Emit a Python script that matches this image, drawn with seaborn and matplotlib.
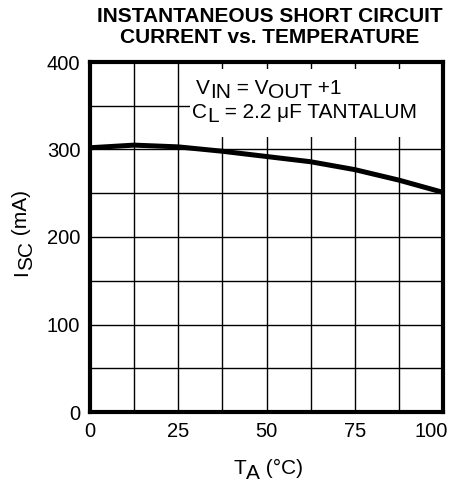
import matplotlib
matplotlib.use('Agg')
import matplotlib.pyplot as plt
import matplotlib.transforms as mtransforms
from matplotlib.patches import Rectangle
import seaborn as sns
import pandas as pd
import numpy as np

# Values
temp_c = [0, 12.5, 25, 37.5, 50, 62.5, 75, 87.5, 100]
isc_ma = [302, 305, 303, 298, 292, 286, 277, 265, 251]

x_ticks = [0, 25, 50, 75, 100]
y_ticks = [0, 100, 200, 300, 400]

sns.set_style("white")
plt.rcParams['font.family'] = ['Liberation Sans', 'DejaVu Sans']
plt.rcParams['text.color'] = 'black'

W, H = 456, 486
df = pd.DataFrame({'T': temp_c, 'I': isc_ma})

fig = plt.figure(figsize=(W / 100, H / 100), dpi=100)
ax = fig.add_axes([90 / W, 74 / H, 353 / W, 350 / H])

sns.lineplot(data=df, x='T', y='I', ax=ax, color='black', linewidth=3.6, zorder=5)

ax.set_xlim(0, 100)
ax.set_ylim(0, 400)
ax.set_xticks(x_ticks)
ax.set_yticks(y_ticks)
ax.set_xticks(np.arange(0, 101, 12.5), minor=True)
ax.set_yticks(np.arange(0, 401, 50), minor=True)
ax.grid(True, which='both', color='black', linewidth=1.0)
ax.tick_params(which='both', length=0, labelsize=14.5, colors='black')
ax.tick_params(axis='x', pad=7.5)
ax.tick_params(axis='y', pad=7)
ax.set_xlabel('')
ax.set_ylabel('')
for s in ax.spines.values():
    s.set_linewidth(3)
    s.set_color('black')
    s.set_zorder(6)

# last x label sits left of its tick in the reference
lab = ax.get_xticklabels()[-1]
lab.set_ha('right')
lab.set_transform(lab.get_transform() + mtransforms.ScaledTranslation(0.05, 0, fig.dpi_scale_trans))


def rich(x, y, parts, size, rot=0, shift=0.2):
    # text runs with full-size lowered subscripts; x, y = baseline start in px from top-left
    prev, prev_off = None, 0.0
    for s, low in parts:
        off = -shift * size if low else 0.0
        if prev is None:
            t = ax.annotate(s, xy=(x, H - y), xycoords='figure pixels', xytext=(0, 0),
                            textcoords='offset points', ha='left', va='baseline',
                            rotation=rot, rotation_mode='anchor', fontsize=size, zorder=7)
        elif rot == 0:
            t = ax.annotate(s, xy=(1, 0), xycoords=prev, xytext=(0, off - prev_off),
                            textcoords='offset points', ha='left', va='bottom',
                            fontsize=size, zorder=7)
        else:
            t = ax.annotate(s, xy=(0, 1), xycoords=prev, xytext=(prev_off - off, 0),
                            textcoords='offset points', ha='left', va='bottom',
                            rotation=rot, fontsize=size, zorder=7)
        prev, prev_off = t, off


# white box behind the conditions text
ax.add_patch(Rectangle((0.283, 0.786), 0.717, 0.194, transform=ax.transAxes,
                       facecolor='white', edgecolor='none', zorder=3))

rich(196, 94, [('V', False), ('IN', True), (' = V', False), ('OUT', True), (' +1', False)], 15)
rich(192, 118, [('C', False), ('L', True), (' = 2.2 μF TANTALUM', False)], 15)

rich(233, 474, [('T', False), ('A', True), (' (°C)', False)], 15, shift=0.22)
rich(27, 276, [('I', False), ('SC', True), (' (mA)', False)], 15, rot=90, shift=0.22)

fig.text(270 / W, 1 - 22 / H, 'INSTANTANEOUS SHORT CIRCUIT', ha='center', va='baseline',
         fontsize=15, fontweight='bold')
fig.text(270 / W, 1 - 43 / H, 'CURRENT vs. TEMPERATURE', ha='center', va='baseline',
         fontsize=15, fontweight='bold')

fig.savefig('out.png', dpi=100)
